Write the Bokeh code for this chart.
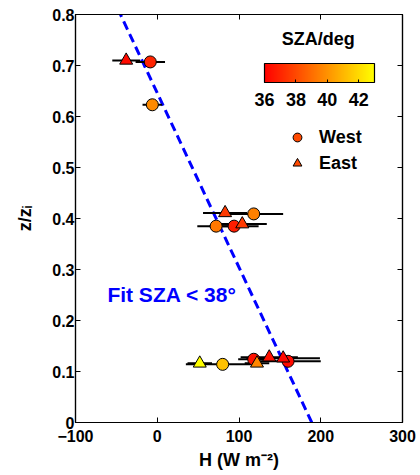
import numpy as np
from bokeh.plotting import figure
from bokeh.models import (ColumnDataSource, LinearAxis, Range1d, FixedTicker,
                          LinearColorMapper, ColorBar, Label, Legend, LegendItem,
                          CustomLabelingPolicy)
from bokeh.transform import linear_cmap
from bokeh.embed import file_html
from bokeh.resources import INLINE

# ---- data ----
west_H = [-8.5, -6, 118, 72, 94, 80, 118, 160]
west_z = [0.707, 0.623, 0.409, 0.385, 0.385, 0.114, 0.124, 0.120]
west_err = [18, 12, 36, 23, 30, 45, 19, 40]
west_sza = [37.0, 39.8, 39.5, 39.3, 36.8, 41.3, 36.5, 36.3]

east_H = [-38, 83, 104, 52, 122, 137, 154]
east_z = [0.710, 0.411, 0.389, 0.116, 0.116, 0.128, 0.126]
east_err = [17, 27, 30, 15, 15, 35, 45]
east_sza = [36.3, 37.6, 37.6, 43.0, 39.7, 36.5, 36.2]

fit_z = [0.0, 0.8]
fit_H = [189, -45]

x_ticks = [-100, 0, 100, 200, 300]
x_tick_labels = ["\u2212100", "0", "100", "200", "300"]
y_ticks = [0, 0.1, 0.2, 0.3, 0.4, 0.5, 0.6, 0.7, 0.8]
y_tick_labels = ["0", "0.1", "0.2", "0.3", "0.4", "0.5", "0.6", "0.7", "0.8"]
cbar_ticks = [36, 38, 40, 42]
sza_low, sza_high = 36, 43

FONT = "Liberation Sans"
autumn = ["#ff%02x00" % g for g in range(256)]

p = figure(frame_width=327, frame_height=408,
           x_range=Range1d(-100, 300), y_range=Range1d(0, 0.8),
           output_backend="svg", toolbar_location=None,
           min_border_left=75, min_border_top=14, min_border_right=14,
           min_border_bottom=50)
p.grid.visible = False
p.outline_line_color = "black"
p.outline_line_width = 1.2
p.background_fill_color = "white"

no_labels = CustomLabelingPolicy(code="""
const all = Array.from(indices);
for (const i of all) indices.unset(i);
return indices;
""")


def style_axis(ax, ticks, labels, show_labels=True):
    ax.ticker = FixedTicker(ticks=ticks)
    ax.minor_tick_line_color = None
    ax.major_tick_in = 5
    ax.major_tick_out = 0
    ax.axis_line_color = "black"
    ax.axis_line_width = 1.2
    ax.major_tick_line_color = "black"
    ax.major_label_text_font = FONT
    ax.major_label_text_font_style = "bold"
    ax.major_label_text_color = "black"
    if show_labels:
        ax.major_label_overrides = dict(zip(ticks, labels))
        ax.major_label_text_font_size = "16px"
    else:
        ax.major_label_policy = no_labels
        ax.major_label_text_font_size = "1px"
        ax.major_label_standoff = 0


style_axis(p.xaxis[0], x_ticks, x_tick_labels)
style_axis(p.yaxis[0], y_ticks, y_tick_labels)
p.xaxis[0].major_label_standoff = 7
p.yaxis[0].major_label_standoff = 1

p.xaxis[0].axis_label = "H (W m\u207b\u00b2)"
p.xaxis[0].axis_label_standoff = 5
p.yaxis[0].axis_label = "z/z\u1d62"
p.yaxis[0].axis_label_standoff = 14
for ax in (p.xaxis[0], p.yaxis[0]):
    ax.axis_label_text_font = FONT
    ax.axis_label_text_font_style = "bold"
    ax.axis_label_text_font_size = "18px"
    ax.axis_label_text_color = "black"

top = LinearAxis()
style_axis(top, x_ticks, x_tick_labels, show_labels=False)
p.add_layout(top, "above")
right = LinearAxis()
style_axis(right, y_ticks, y_tick_labels, show_labels=False)
p.add_layout(right, "right")

# fit line
p.line(fit_H, fit_z, line_color="#0000ff", line_width=3, line_dash="9 5")

cmap = linear_cmap("sza", autumn, sza_low, sza_high)

west = ColumnDataSource(dict(H=west_H, z=west_z, sza=west_sza,
                             lo=[h - e for h, e in zip(west_H, west_err)],
                             hi=[h + e for h, e in zip(west_H, west_err)]))
east = ColumnDataSource(dict(H=east_H, z=east_z, sza=east_sza,
                             lo=[h - e for h, e in zip(east_H, east_err)],
                             hi=[h + e for h, e in zip(east_H, east_err)]))

for src in (west, east):
    p.segment(x0="lo", y0="z", x1="hi", y1="z", source=src,
              line_color="black", line_width=2)

p.scatter("H", "z", source=west, marker="circle", size=12,
          fill_color=cmap, line_color="black", line_width=1)
p.scatter("H", "z", source=east, marker="triangle", size=13,
          fill_color=cmap, line_color="black", line_width=1)

# legend (proxy renderers with no visible point)
rw = p.scatter(x=[np.nan], y=[np.nan], marker="circle", fill_color="#ff4a00",
               line_color="black")
re = p.scatter(x=[np.nan], y=[np.nan], marker="triangle", fill_color="#ff4a00",
               line_color="black")
legend = Legend(items=[LegendItem(label="West", renderers=[rw]),
                       LegendItem(label="East", renderers=[re])],
                location=(211, 248), padding=0, margin=0, spacing=4,
                glyph_width=22, glyph_height=22, label_standoff=11,
                label_text_font=FONT, label_text_font_style="bold",
                label_text_font_size="18px", label_text_color="black",
                background_fill_alpha=0, border_line_color=None)
p.add_layout(legend)

# colour bar
mapper = LinearColorMapper(palette=autumn, low=sza_low, high=sza_high)
cbar = ColorBar(color_mapper=mapper, orientation="horizontal", width=110, height=19,
                location=(189, 314), padding=0, ticker=FixedTicker(ticks=cbar_ticks),
                major_label_text_font=FONT, major_label_text_font_style="bold",
                major_label_text_font_size="18px", major_label_text_color="black",
                label_standoff=10,
                bar_line_color="black", bar_line_width=1.2,
                major_tick_line_color="black", major_tick_in=3, major_tick_out=0,
                minor_tick_line_color=None,
                background_fill_alpha=0, border_line_color=None)
p.add_layout(cbar)

p.add_layout(Label(x=197, y=0.751, text="SZA/deg", text_align="center",
                   text_baseline="middle", text_font=FONT, text_font_style="bold",
                   text_font_size="18px", text_color="black"))

# fit annotation
p.add_layout(Label(x=-61, y=0.2516, text="Fit SZA < 38\u00b0", text_align="left",
                   text_baseline="middle", text_font=FONT, text_font_style="bold",
                   text_font_size="21px", text_color="#0000ff"))

open("out.html", "w").write(file_html(p, INLINE))
